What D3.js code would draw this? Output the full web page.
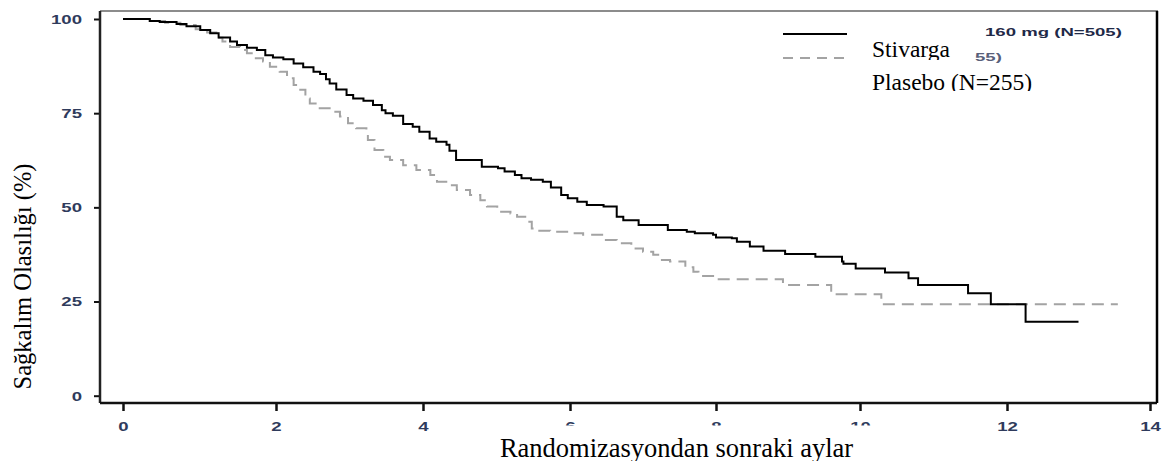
<!DOCTYPE html>
<html><head><meta charset="utf-8">
<script src="https://cdn.jsdelivr.net/npm/d3@7"></script>
<style>body{margin:0;background:#fff;} svg{display:block;}</style>
</head><body>
<svg id="c" width="1162" height="461"></svg>
<script>
// ---- data ----
const xTicks = [0, 2, 4, 6, 8, 10, 12, 14];
const yTicks = [0, 25, 50, 75, 100];

const stivargaMonths = [0, 0.35, 0.48, 0.70, 0.83, 1.01, 1.14, 1.25, 1.40, 1.49, 1.62, 1.75, 1.86, 1.96, 2.10, 2.24, 2.37, 2.51, 2.60, 2.68, 2.73, 2.82, 2.96, 3.05, 3.19, 3.32, 3.44, 3.49, 3.59, 3.73, 3.86, 3.95, 4.09, 4.18, 4.32, 4.36, 4.45, 4.80, 5.02, 5.11, 5.25, 5.34, 5.47, 5.63, 5.74, 5.88, 5.97, 6.10, 6.23, 6.46, 6.64, 6.73, 6.94, 7.34, 7.60, 7.71, 7.96, 8.00, 8.22, 8.29, 8.47, 8.66, 8.96, 9.38, 9.75, 9.77, 9.94, 10.34, 10.66, 10.79, 11.47, 11.78, 12.26, 13.0];
const stivargaSurv = [100, 99.5, 99.2, 98.7, 98.1, 97.1, 96.2, 95.1, 94.0, 93.1, 92.4, 91.8, 90.4, 89.8, 89.3, 88.2, 87.2, 86.0, 85.4, 84.0, 82.9, 81.3, 79.8, 78.9, 78.3, 77.2, 75.8, 75.0, 74.3, 72.1, 71.4, 70.1, 68.3, 67.4, 66.6, 65.0, 62.6, 60.8, 60.4, 59.5, 58.6, 57.7, 57.3, 56.8, 55.3, 53.3, 52.4, 51.5, 50.6, 50.2, 47.5, 46.6, 45.3, 44.0, 43.5, 43.1, 42.7, 42.0, 41.8, 40.9, 39.6, 38.5, 37.6, 36.9, 35.6, 35.0, 33.8, 32.7, 31.2, 29.4, 27.2, 24.3, 19.6, 19.6];

const placeboMonths = [0, 0.35, 0.55, 0.75, 0.95, 1.10, 1.22, 1.30, 1.40, 1.53, 1.62, 1.70, 1.83, 1.92, 2.05, 2.15, 2.24, 2.33, 2.40, 2.46, 2.58, 2.73, 2.87, 2.98, 3.09, 3.23, 3.25, 3.34, 3.46, 3.55, 3.73, 3.91, 4.10, 4.19, 4.37, 4.46, 4.64, 4.78, 4.87, 5.01, 5.19, 5.28, 5.41, 5.48, 5.55, 5.73, 6.00, 6.18, 6.46, 6.64, 6.84, 7.00, 7.14, 7.23, 7.37, 7.58, 7.69, 7.76, 8.01, 8.93, 9.60, 10.29, 13.55];
const placeboSurv = [100, 99.5, 99.0, 98.4, 97.3, 96.4, 95.0, 94.0, 92.6, 91.8, 90.9, 89.6, 88.7, 87.3, 86.0, 84.3, 82.5, 81.2, 78.9, 77.6, 76.3, 75.4, 74.1, 72.3, 71.0, 69.7, 67.9, 65.2, 63.4, 62.6, 61.2, 59.9, 58.6, 56.8, 55.9, 54.6, 53.3, 51.9, 50.2, 48.8, 48.4, 47.5, 46.2, 44.4, 43.8, 43.5, 43.1, 42.7, 41.3, 40.5, 39.1, 38.2, 37.4, 36.0, 35.6, 34.1, 32.9, 31.8, 30.9, 29.4, 26.9, 24.3, 24.3];

const legendLabels = ["Stivarga", "Plasebo (N=255)"];
const legendFragments = ["160 mg (N=505)", "55)"];
const xTitle = "Randomizasyondan sonraki aylar";
const yTitle = "Sağkalım Olasılığı (%)";

// ---- drawing ----
const svg = d3.select("#c");
const frame = {left: 100, right: 1157, top: 11, bottom: 403};

const x = d3.scaleLinear().domain(xTicks).range([123, 276, 423, 570, 716, 860, 1007, 1150]);
const y = d3.scaleLinear().domain([0, 100]).range([395.7, 19]);

const tickFont = "'Liberation Sans', Arial, sans-serif";
const tickColor = "#2f3b5c";
const stretch = 1.55;

// x axis
const gx = svg.append("g").attr("transform", `translate(0,${frame.bottom})`)
  .call(d3.axisBottom(x).tickValues(xTicks).tickSize(8).tickSizeOuter(0));
gx.select(".domain").remove();
gx.selectAll(".tick line").attr("stroke", "#111").attr("stroke-width", 2.5);
gx.selectAll(".tick text")
  .attr("y", 28).attr("dy", 0)
  .attr("transform", `scale(${stretch},1)`)
  .attr("font-family", tickFont).attr("font-weight", "bold").attr("font-size", 12)
  .attr("fill", tickColor);

// y axis
const gy = svg.append("g").attr("transform", `translate(${frame.left},0)`)
  .call(d3.axisLeft(y).tickValues(yTicks).tickSize(6).tickSizeOuter(0));
gy.select(".domain").remove();
gy.selectAll(".tick line").attr("stroke", "#111").attr("stroke-width", 2);
gy.selectAll(".tick text")
  .attr("x", -18 / stretch).attr("dy", "0.36em")
  .attr("transform", `scale(${stretch},1)`)
  .attr("font-family", tickFont).attr("font-weight", "bold").attr("font-size", 12)
  .attr("fill", tickColor);

// frame
svg.append("line").attr("x1", frame.left).attr("x2", frame.right + 1).attr("y1", frame.top).attr("y2", frame.top)
  .attr("stroke", "#666").attr("stroke-width", 1.5);
svg.append("line").attr("x1", frame.left).attr("x2", frame.left).attr("y1", frame.top).attr("y2", frame.bottom)
  .attr("stroke", "#222").attr("stroke-width", 2.5);
svg.append("line").attr("x1", frame.left).attr("x2", frame.right).attr("y1", frame.bottom).attr("y2", frame.bottom)
  .attr("stroke", "#111").attr("stroke-width", 2.5);
svg.append("line").attr("x1", frame.right).attr("x2", frame.right).attr("y1", frame.top).attr("y2", frame.bottom)
  .attr("stroke", "#000").attr("stroke-width", 2.5);

// curves
const line = d3.line().curve(d3.curveStepAfter).x(d => x(d[0])).y(d => y(d[1]));
const placebo = placeboMonths.map((m, i) => [m, placeboSurv[i]]);
const stivarga = stivargaMonths.map((m, i) => [m, stivargaSurv[i]]);

svg.append("path").datum(placebo).attr("d", line)
  .attr("fill", "none").attr("stroke", "#a3a3a3").attr("stroke-width", 2)
  .attr("stroke-dasharray", "12,7");
svg.append("path").datum(stivarga).attr("d", line)
  .attr("fill", "none").attr("stroke", "#000").attr("stroke-width", 2);

// legend
svg.append("line").attr("x1", 783).attr("x2", 847).attr("y1", 34).attr("y2", 34)
  .attr("stroke", "#000").attr("stroke-width", 2);
svg.append("line").attr("x1", 783).attr("x2", 847).attr("y1", 58).attr("y2", 58)
  .attr("stroke", "#a3a3a3").attr("stroke-width", 2).attr("stroke-dasharray", "10,7");

const defs = svg.append("defs");
defs.append("clipPath").attr("id", "clipB").append("rect").attr("x", 960).attr("y", 53).attr("width", 100).attr("height", 40);
defs.append("clipPath").attr("id", "clipC").append("rect").attr("x", 850).attr("y", 38).attr("width", 120).attr("height", 22);
defs.append("clipPath").attr("id", "clipD").append("rect").attr("x", 850).attr("y", 60).attr("width", 250).attr("height", 31);

// remaining fragments of the original legend text
svg.append("g").attr("transform", "translate(985,36)")
  .append("text").text(legendFragments[0])
  .attr("transform", "scale(1.69,1)")
  .attr("font-family", tickFont).attr("font-weight", "bold").attr("font-size", 11).attr("fill", "#1f2a48");
svg.append("g").attr("clip-path", "url(#clipB)")
  .append("g").attr("transform", "translate(975,61)")
  .append("text").text(legendFragments[1])
  .attr("transform", "scale(1.69,1)")
  .attr("font-family", tickFont).attr("font-weight", "bold").attr("font-size", 11).attr("fill", "#59607a");

// overlaid legend labels
const serif = "'Liberation Serif', 'Times New Roman', serif";
svg.append("g").attr("clip-path", "url(#clipC)")
  .append("text").text(legendLabels[0]).attr("x", 872).attr("y", 57)
  .attr("font-family", serif).attr("font-size", 23.5).attr("fill", "#000");
svg.append("g").attr("clip-path", "url(#clipD)")
  .append("text").text(legendLabels[1]).attr("x", 872).attr("y", 90)
  .attr("font-family", serif).attr("font-size", 23.5).attr("fill", "#000");

// cover box over the x title region
svg.append("rect").attr("x", 445).attr("y", 425.5).attr("width", 545).attr("height", 36).attr("fill", "#fff");

// axis titles
svg.append("text").text(xTitle).attr("x", 676.5).attr("y", 456.5).attr("text-anchor", "middle")
  .attr("font-family", serif).attr("font-size", 26.5).attr("fill", "#000");
svg.append("text").text(yTitle).attr("transform", "translate(31,276.5) rotate(-90)").attr("text-anchor", "middle")
  .attr("font-family", serif).attr("font-size", 24.5).attr("fill", "#000");
</script>
</body></html>
